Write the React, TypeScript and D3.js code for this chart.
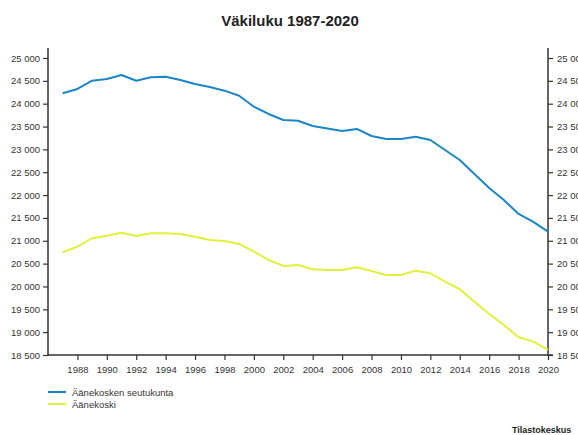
import React, { useRef, useEffect } from "react";
import * as d3 from "d3";

const years = [1987, 1988, 1989, 1990, 1991, 1992, 1993, 1994, 1995, 1996, 1997, 1998, 1999, 2000, 2001, 2002, 2003,
  2004, 2005, 2006, 2007, 2008, 2009, 2010, 2011, 2012, 2013, 2014, 2015, 2016, 2017, 2018, 2019, 2020];

const seutukunta = [24228, 24322, 24503, 24540, 24628, 24503, 24578, 24591, 24519, 24431, 24366, 24285, 24175, 23934,
  23775, 23643, 23628, 23512, 23457, 23403, 23447, 23293, 23228, 23228, 23278, 23206, 22987, 22768, 22462, 22156,
  21893, 21587, 21412, 21199];

const aanekoski = [20748, 20871, 21055, 21112, 21177, 21105, 21164, 21164, 21149, 21090, 21017, 20995, 20930, 20762,
  20580, 20449, 20470, 20376, 20361, 20361, 20420, 20339, 20252, 20252, 20346, 20289, 20105, 19939, 19667, 19398,
  19157, 18888, 18792, 18610];

const yTicks = [18500, 19000, 19500, 20000, 20500, 21000, 21500, 22000, 22500, 23000, 23500, 24000, 24500, 25000];
const xTicks = [1988, 1990, 1992, 1994, 1996, 1998, 2000, 2002, 2004, 2006, 2008, 2010, 2012, 2014, 2016, 2018, 2020];

const seriesNames = ["Äänekosken seutukunta", "Äänekoski"];
const seriesColors = ["#1b86c6", "#e3ef3a"];

const fmt = (v: number) => d3.format(",")(v).replace(",", " ");

const App = () => {
  const svgRef = useRef<SVGSVGElement>(null);
  const width = 578;
  const height = 435;
  const left = 48;
  const right = 548;
  const top = 58;
  const bottom = 355;

  useEffect(() => {
    const svg = d3.select(svgRef.current);
    svg.selectAll("*").remove();
    const font = "'Liberation Sans', Arial, sans-serif";

    const x = d3.scaleLinear().domain([1986, 2020]).range([left, right]);
    const y = d3.scaleLinear().domain([18500, 25000]).range([bottom, top]);

    svg.append("rect").attr("width", width).attr("height", height).attr("fill", "white");

    svg.append("text")
      .attr("x", 290).attr("y", 26)
      .attr("text-anchor", "middle")
      .attr("font-family", font).attr("font-weight", "bold").attr("font-size", "15px")
      .attr("fill", "#222")
      .text("Väkiluku 1987-2020");

    // axes
    const leftAxis = svg.append("g")
      .attr("transform", `translate(${left},0)`)
      .call(d3.axisLeft(y).tickValues(yTicks).tickFormat((d) => fmt(+d)).tickSize(5).tickPadding(3));
    const rightAxis = svg.append("g")
      .attr("transform", `translate(${right},0)`)
      .call(d3.axisRight(y).tickValues(yTicks).tickFormat((d) => fmt(+d)).tickSize(5).tickPadding(4));
    const bottomAxis = svg.append("g")
      .attr("transform", `translate(0,${bottom})`)
      .call(d3.axisBottom(x).tickValues(xTicks).tickFormat(d3.format("d")).tickSize(5).tickPadding(6));

    [leftAxis, rightAxis, bottomAxis].forEach((g) => {
      g.select(".domain").remove();
      g.selectAll("line").attr("stroke", "#333").attr("stroke-width", 1.2);
      g.selectAll("text").attr("font-family", font).attr("font-size", "9.5px").attr("fill", "#333");
    });

    svg.append("line").attr("x1", left).attr("x2", left).attr("y1", 48).attr("y2", bottom + 1)
      .attr("stroke", "#333").attr("stroke-width", 1.5);
    svg.append("line").attr("x1", right).attr("x2", right).attr("y1", 48).attr("y2", bottom + 1)
      .attr("stroke", "#333").attr("stroke-width", 1.5);
    svg.append("line").attr("x1", left).attr("x2", right + 5).attr("y1", bottom).attr("y2", bottom)
      .attr("stroke", "#333").attr("stroke-width", 1.5);

    // lines
    const line = d3.line<number>()
      .x((d, i) => x(years[i]))
      .y((d) => y(d));
    [seutukunta, aanekoski].forEach((s, i) => {
      svg.append("path")
        .datum(s)
        .attr("d", line)
        .attr("fill", "none")
        .attr("stroke", seriesColors[i])
        .attr("stroke-width", 2)
        .attr("stroke-linejoin", "round");
    });

    // legend
    seriesNames.forEach((name, i) => {
      const ly = 392 + i * 12;
      svg.append("line").attr("x1", 48).attr("x2", 66).attr("y1", ly).attr("y2", ly)
        .attr("stroke", seriesColors[i]).attr("stroke-width", 2);
      svg.append("text").attr("x", 72).attr("y", ly + 3.5)
        .attr("font-family", font).attr("font-size", "9.5px").attr("fill", "#333")
        .text(name);
    });

    svg.append("text")
      .attr("x", 512).attr("y", 433)
      .attr("font-family", font).attr("font-weight", "bold").attr("font-size", "9px")
      .attr("fill", "#222")
      .text("Tilastokeskus");
  }, []);

  return (
    <div style={{ position: "absolute", left: 0, top: 0 }}>
      <svg ref={svgRef} width={width} height={height} style={{ display: "block" }} />
    </div>
  );
};

export default App;
